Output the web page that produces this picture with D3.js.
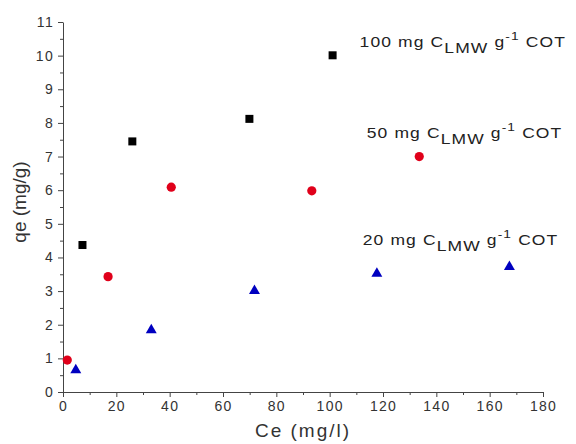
<!DOCTYPE html>
<html>
<head>
<meta charset="utf-8">
<script src="https://cdn.jsdelivr.net/npm/d3@7"></script>
<style>
  body { margin: 0; background: #fff; }
  text { font-family: "Liberation Sans", Arial, sans-serif; }
</style>
</head>
<body>
<div id="chart"></div>
<script>
// values
let ce100 = [7.3, 26.0, 69.9, 101.1];
let qe100 = [4.37, 7.45, 8.12, 10.01];
let ce50 = [1.6, 16.9, 40.6, 93.3, 133.6];
let qe50 = [0.95, 3.43, 6.09, 5.98, 7.0];
let ce20 = [4.8, 33.1, 71.8, 117.7, 167.4];
let qe20 = [0.68, 1.87, 3.04, 3.55, 3.75];
let xTicks = [0, 20, 40, 60, 80, 100, 120, 140, 160, 180];
let yTicks = [0, 1, 2, 3, 4, 5, 6, 7, 8, 9, 10, 11];
let seriesNames = ["100", "50", "20"];
let labelX = [111.2, 113.9, 112.4];
let labelY = [10.27, 7.55, 4.37];

let margin = { top: 22, right: 33, bottom: 52, left: 63 };
let width = 576 - margin.left - margin.right;
let height = 444 - margin.top - margin.bottom;

let svg = d3.select("#chart")
    .append("svg")
    .attr("width", 576)
    .attr("height", 444)
    .append("g")
    .attr("transform", "translate(" + margin.left + "," + margin.top + ")");

let x = d3.scaleLinear().domain([0, 180]).range([0, width]);
let y = d3.scaleLinear().domain([0, 11]).range([height, 0]);

// minor ticks first
svg.append("g")
    .attr("transform", "translate(0," + height + ")")
    .call(d3.axisBottom(x).tickValues(d3.range(10, 180, 20)).tickSize(3).tickFormat(""))
    .call(g => g.select(".domain").remove())
    .selectAll("line").attr("stroke", "#444");
svg.append("g")
    .call(d3.axisLeft(y).tickValues(d3.range(0.5, 11, 1)).tickSize(3).tickFormat(""))
    .call(g => g.select(".domain").remove())
    .selectAll("line").attr("stroke", "#444");

let xAxis = svg.append("g")
    .attr("transform", "translate(0," + height + ")")
    .call(d3.axisBottom(x).tickValues(xTicks).tickSize(5).tickSizeOuter(0).tickPadding(4));
let yAxis = svg.append("g")
    .call(d3.axisLeft(y).tickValues(yTicks).tickSize(5).tickSizeOuter(0).tickPadding(4));
[xAxis, yAxis].forEach(a => {
    a.select(".domain").attr("stroke", "#444");
    a.selectAll("line").attr("stroke", "#444");
    a.selectAll("text")
        .attr("fill", "#333")
        .style("font-size", "14px")
        .style("letter-spacing", "1.3px")
        .style("font-family", "'Liberation Sans', Arial, sans-serif");
});

svg.append("text")
    .attr("x", width / 2)
    .attr("y", height + 45)
    .attr("text-anchor", "middle")
    .attr("fill", "#333")
    .style("font-size", "19px")
    .style("letter-spacing", "2px")
    .text("Ce (mg/l)");

svg.append("text")
    .attr("transform", "translate(-37," + (height / 2 - 5) + ") rotate(-90)")
    .attr("text-anchor", "middle")
    .attr("fill", "#333")
    .style("font-size", "19px")
    .text("qe (mg/g)");

// black squares
let sq = 8;
svg.selectAll(".sq")
    .data(d3.zip(ce100, qe100))
    .enter()
    .append("rect")
    .attr("x", d => x(d[0]) - sq / 2)
    .attr("y", d => y(d[1]) - sq / 2)
    .attr("width", sq)
    .attr("height", sq)
    .attr("fill", "#000");

// red circles
svg.selectAll(".ci")
    .data(d3.zip(ce50, qe50))
    .enter()
    .append("circle")
    .attr("cx", d => x(d[0]))
    .attr("cy", d => y(d[1]))
    .attr("r", 4.6)
    .attr("fill", "#e0001a");

// blue triangles
let tri = d3.symbol().type(d3.symbolTriangle).size(52);
svg.selectAll(".tr")
    .data(d3.zip(ce20, qe20))
    .enter()
    .append("path")
    .attr("d", tri)
    .attr("transform", d => "translate(" + x(d[0]) + "," + (y(d[1]) + 1) + ")")
    .attr("fill", "#0000c0");

// series labels
seriesNames.forEach((s, i) => {
    let t = svg.append("g")
        .attr("transform", "translate(" + x(labelX[i]) + "," + y(labelY[i]) + ") scale(1.25,1)")
        .append("text")
        .attr("fill", "#222")
        .style("font-size", "14px")
        .style("letter-spacing", "0.9px");
    t.append("tspan").text(s + " mg C");
    t.append("tspan").attr("dy", 6).text("LMW");
    t.append("tspan").attr("dy", -6).text(" g");
    t.append("tspan").attr("dy", -7).style("font-size", "11px").text("-1");
    t.append("tspan").attr("dy", 7).text(" COT");
});
</script>
</body>
</html>
